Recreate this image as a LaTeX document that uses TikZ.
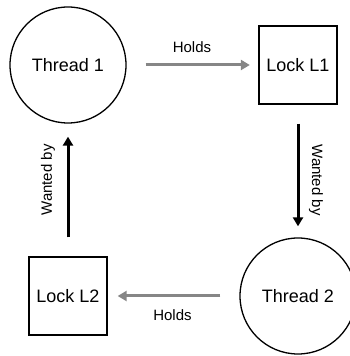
\documentclass[tikz,border=0pt]{standalone}
\usepackage{fontspec}
\setmainfont{Liberation Sans}
\usetikzlibrary{arrows.meta}
\begin{document}
\begin{tikzpicture}[x=1pt,y=1pt,
  thread/.style={draw, circle, line width=1.3pt, minimum size=116pt, inner sep=0pt, font=\fontsize{18}{20}\selectfont},
  lock/.style={draw, rectangle, line width=1.3pt, minimum size=78pt, inner sep=0pt, font=\fontsize{18}{20}\selectfont},
  holds/.style={draw=gray!95, line width=3pt, -{Triangle[length=9pt,width=10pt]}},
  wanted/.style={draw=black, line width=3pt, -{Triangle[length=9pt,width=10pt]}},
  lbl/.style={font=\fontsize{15}{17}\selectfont, inner sep=0pt}]
\useasboundingbox (0,0) rectangle (350,356);
\clip (0,0) rectangle (350,356);
\node[thread] (t1) at (68,291) {Thread 1};
\node[lock] (l1) at (298,291) {Lock L1};
\node[thread] (t2) at (298,60) {Thread 2};
\node[lock] (l2) at (68,60) {Lock L2};
\draw[holds, shorten <=19pt, shorten >=8.5pt] (t1.east) -- (l1.west);
\draw[wanted, shorten <=19pt, shorten >=11pt] (l1.south) -- (t2.north);
\draw[holds, shorten <=19pt, shorten >=10pt] (t2.west) -- (l2.east);
\draw[wanted, shorten <=19pt, shorten >=13pt] (l2.north) -- (t1.south);
\node[lbl] (h1) at (192,309) {Holds};
\node[lbl] (h2) at (172.5,41) {Holds};
\node[lbl, rotate=-90] (w1) at (316,176) {Wanted by};
\node[lbl, rotate=90] (w2) at (48,176) {Wanted by};
\end{tikzpicture}
\end{document}
